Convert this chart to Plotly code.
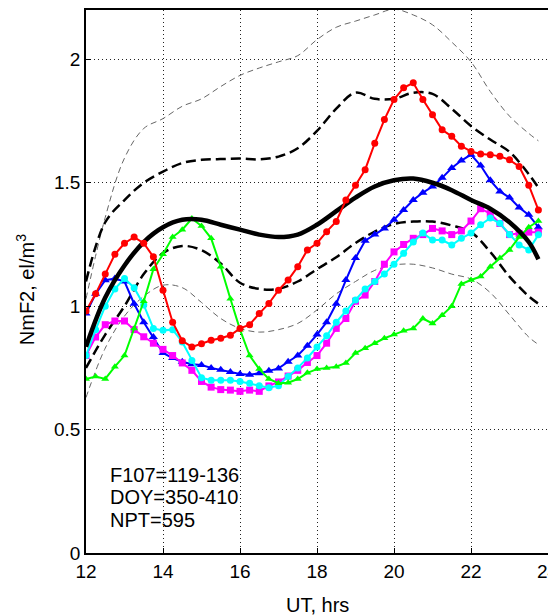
import plotly.graph_objects as go

# UT hours for the 15-minute observational series
ut_q = [12 + 0.25 * i for i in range(48)]
# UT hours for the smoothed statistical curves
ut_h = [12.0, 12.5, 13.0, 13.5, 14.0, 14.5, 15.0, 15.5, 16.0, 16.5, 17.0, 17.5,
        18.0, 18.5, 19.0, 19.5, 20.0, 20.5, 21.0, 21.5, 22.0, 22.5, 23.0, 23.5, 23.75]

median = [0.836, 1.035, 1.165, 1.26, 1.32, 1.35, 1.35, 1.33, 1.31, 1.29, 1.28, 1.29,
          1.33, 1.385, 1.44, 1.485, 1.51, 1.517, 1.50, 1.47, 1.43, 1.395, 1.34, 1.26, 1.19]
upper_q = [1.10, 1.34, 1.43, 1.50, 1.545, 1.58, 1.593, 1.596, 1.598, 1.595, 1.606, 1.64,
           1.71, 1.80, 1.865, 1.84, 1.84, 1.865, 1.86, 1.80, 1.73, 1.675, 1.625, 1.535, 1.48]
lower_q = [0.75, 0.885, 1.00, 1.13, 1.215, 1.244, 1.227, 1.173, 1.095, 1.07, 1.07, 1.10,
           1.15, 1.198, 1.256, 1.302, 1.333, 1.343, 1.343, 1.327, 1.30, 1.22, 1.12, 1.04, 1.01]
upper_x = [1.03, 1.36, 1.60, 1.72, 1.76, 1.81, 1.84, 1.89, 1.935, 1.965, 1.99, 2.015,
           2.08, 2.13, 2.155, 2.18, 2.203, 2.18, 2.14, 2.07, 1.99, 1.87, 1.77, 1.70, 1.67]
lower_x = [0.63, 0.83, 0.96, 1.04, 1.085, 1.075, 1.015, 0.95, 0.91, 0.895, 0.905, 0.93,
           0.985, 1.05, 1.10, 1.145, 1.167, 1.17, 1.155, 1.13, 1.11, 1.055, 0.965, 0.875, 0.845]

red = [0.98, 1.05, 1.13, 1.21, 1.255, 1.28, 1.255, 1.20, 1.065, 0.935, 0.86, 0.835,
       0.848, 0.862, 0.87, 0.882, 0.91, 0.925, 0.97, 1.011, 1.065, 1.106, 1.16, 1.228,
       1.255, 1.302, 1.343, 1.43, 1.49, 1.553, 1.66, 1.756, 1.837, 1.885, 1.905, 1.837,
       1.776, 1.715, 1.688, 1.648, 1.627, 1.617, 1.614, 1.607, 1.593, 1.566, 1.49, 1.39]
blue = [0.97, 1.05, 1.105, 1.112, 1.10, 1.01, 0.935, 0.875, 0.81, 0.79, 0.775, 0.765,
        0.762, 0.75, 0.742, 0.733, 0.725, 0.722, 0.728, 0.738, 0.748, 0.775, 0.80, 0.84,
        0.885, 0.935, 1.01, 1.106, 1.195, 1.265, 1.29, 1.315, 1.35, 1.39, 1.43, 1.46,
        1.485, 1.52, 1.56, 1.59, 1.614, 1.57, 1.51, 1.465, 1.44, 1.40, 1.37, 1.32]
magenta = [0.80, 0.875, 0.925, 0.94, 0.94, 0.905, 0.876, 0.85, 0.825, 0.80, 0.77, 0.74,
           0.695, 0.672, 0.662, 0.66, 0.655, 0.66, 0.655, 0.677, 0.693, 0.717, 0.74, 0.772,
           0.80, 0.85, 0.91, 0.95, 1.02, 1.045, 1.10, 1.17, 1.22, 1.25, 1.275, 1.29,
           1.315, 1.305, 1.29, 1.305, 1.345, 1.395, 1.375, 1.335, 1.29, 1.295, 1.30, 1.30]
cyan = [0.80, 0.905, 1.0, 1.07, 1.112, 1.075, 1.005, 0.91, 0.902, 0.905, 0.855, 0.78,
        0.71, 0.70, 0.70, 0.70, 0.695, 0.688, 0.678, 0.67, 0.678, 0.715, 0.75, 0.79,
        0.835, 0.88, 0.935, 0.98, 1.025, 1.07, 1.10, 1.13, 1.17, 1.214, 1.26, 1.296,
        1.268, 1.268, 1.248, 1.275, 1.296, 1.33, 1.357, 1.336, 1.29, 1.248, 1.228, 1.289]
green = [0.705, 0.715, 0.705, 0.755, 0.80, 0.91, 1.02, 1.15, 1.21, 1.28, 1.31, 1.355,
         1.325, 1.275, 1.16, 1.03, 0.905, 0.80, 0.745, 0.705, 0.688, 0.69, 0.705, 0.73,
         0.745, 0.75, 0.755, 0.77, 0.81, 0.83, 0.85, 0.87, 0.885, 0.90, 0.91, 0.95,
         0.93, 0.963, 1.00, 1.09, 1.106, 1.12, 1.16, 1.195, 1.228, 1.28, 1.32, 1.345]

x_ticks = [12, 14, 16, 18, 20, 22]
x_edge_tick = 24
y_ticks = [0, 0.5, 1, 1.5, 2]
y_tick_text = ["0", "0.5", "1", "1.5", "2"]
info_lines = ["F107=119-136", "DOY=350-410", "NPT=595"]

FONT = "Liberation Sans, Arial, sans-serif"

fig = go.Figure()

# statistical envelope curves
for ys in (upper_x, lower_x):
    fig.add_trace(go.Scatter(x=ut_h, y=ys, mode="lines", line_shape="spline",
                             line=dict(color="#666666", width=1, dash="6px,4px"),
                             showlegend=False, hoverinfo="skip"))
for ys in (upper_q, lower_q):
    fig.add_trace(go.Scatter(x=ut_h, y=ys, mode="lines", line_shape="spline",
                             line=dict(color="black", width=2.5, dash="10px,5px"),
                             showlegend=False, hoverinfo="skip"))

# individual days
series = [
    (blue, "#0000ff", "triangle-up", 8),
    (magenta, "#ff00ff", "square", 7),
    (cyan, "#00ffff", "circle", 7),
    (green, "#00ff00", "triangle-up", 7),
]
for ys, col, sym, sz in series:
    fig.add_trace(go.Scatter(x=ut_q, y=ys, mode="lines+markers",
                             line=dict(color=col, width=2),
                             marker=dict(symbol=sym, size=sz, color=col),
                             showlegend=False))

# median curve
fig.add_trace(go.Scatter(x=ut_h, y=median, mode="lines", line_shape="spline",
                         line=dict(color="black", width=4.5),
                         showlegend=False))

fig.add_trace(go.Scatter(x=ut_q, y=red, mode="lines+markers",
                         line=dict(color="#ff0000", width=2),
                         marker=dict(symbol="circle", size=7, color="#ff0000"),
                         showlegend=False))

for i, txt in enumerate(info_lines):
    fig.add_annotation(x=12.56, y=0.316 - 0.091 * i, xref="x", yref="y",
                       text=txt, showarrow=False, xanchor="left", yanchor="middle",
                       font=dict(family=FONT, size=20, color="black"))

# last hour label sits on the right edge of the frame
fig.add_annotation(x=x_edge_tick, y=-0.034, xref="x", yref="paper",
                   text=str(x_edge_tick), showarrow=False, xanchor="center",
                   yanchor="middle", font=dict(family=FONT, size=19, color="black"))

# axis titles
fig.add_annotation(x=0.5, y=-0.096, xref="paper", yref="paper", text="UT, hrs",
                   showarrow=False, xanchor="center", yanchor="middle",
                   font=dict(family=FONT, size=20, color="black"))
fig.add_annotation(x=-0.132, y=0.484, xref="paper", yref="paper",
                   text="NmF2, el/m<sup>3</sup>", textangle=-90,
                   showarrow=False, xanchor="center", yanchor="middle",
                   font=dict(family=FONT, size=20, color="black"))

fig.update_layout(
    width=548, height=616,
    margin=dict(l=86, r=0, t=10, b=63),
    paper_bgcolor="white", plot_bgcolor="white",
    font=dict(family=FONT, size=19, color="black"),
    xaxis=dict(range=[12, 24], tickvals=x_ticks, ticktext=[str(v) for v in x_ticks],
               showgrid=True, gridcolor="#222222", gridwidth=1, griddash="1px,3px",
               showline=True, linecolor="black", linewidth=1.5, mirror=True,
               ticks="inside", ticklen=5, tickcolor="black", zeroline=False),
    yaxis=dict(range=[0, 2.2], tickvals=y_ticks, ticktext=y_tick_text,
               showgrid=True, gridcolor="#222222", gridwidth=1, griddash="1px,3px",
               showline=True, linecolor="black", linewidth=1.5,
               ticks="inside", ticklen=5, tickcolor="black", zeroline=False),
)

fig.write_html("out.html")
